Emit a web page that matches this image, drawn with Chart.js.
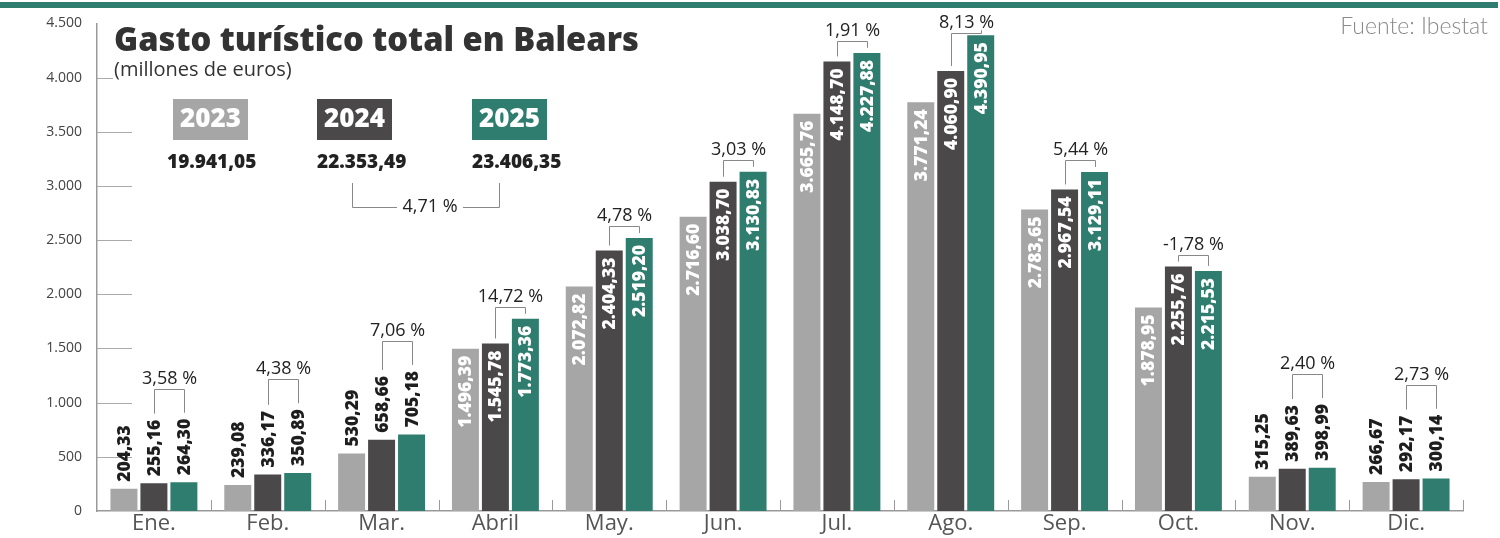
<!DOCTYPE html>
<html lang="es">
<head>
<meta charset="utf-8">
<title>Gasto turístico total en Balears</title>
<script src="https://cdn.jsdelivr.net/npm/chart.js@4/dist/chart.umd.min.js"></script>
<style>
  html, body { margin: 0; padding: 0; background: #fff; }
  #wrap { width: 1500px; height: 538px; position: relative; }
</style>
</head>
<body>
<div id="wrap"><canvas id="chart" width="1500" height="538"></canvas></div>
<script>
// Datos (millones de euros)
const months = ['Ene.', 'Feb.', 'Mar.', 'Abril', 'May.', 'Jun.', 'Jul.', 'Ago.', 'Sep.', 'Oct.', 'Nov.', 'Dic.'];
const years = ['2023', '2024', '2025'];
const gasto2023 = [204.33, 239.08, 530.29, 1496.39, 2072.82, 2716.60, 3665.76, 3771.24, 2783.65, 1878.95, 315.25, 266.67];
const gasto2024 = [255.16, 336.17, 658.66, 1545.78, 2404.33, 3038.70, 4148.70, 4060.90, 2967.54, 2255.76, 389.63, 292.17];
const gasto2025 = [264.30, 350.89, 705.18, 1773.36, 2519.20, 3130.83, 4227.88, 4390.95, 3129.11, 2215.53, 398.99, 300.14];
const variacion = [3.58, 4.38, 7.06, 14.72, 4.78, 3.03, 1.91, 8.13, 5.44, -1.78, 2.40, 2.73];
const totales = [19941.05, 22353.49, 23406.35];
const variacionTotal = 4.71;
const yMax = 4500;
const yStep = 500;

const colors = ['#a6a6a6', '#4a4848', '#2e7d6e'];
const GREEN = '#2e7d6e';

// 1234.5 -> "1.234,50"
function fmt(v) {
  const parts = v.toFixed(2).split('.');
  return parts[0].replace(/\B(?=(\d{3})+(?!\d))/g, '.') + ',' + parts[1];
}
function fmtPct(p) {
  return p.toFixed(2).replace('.', ',') + ' %';
}

const LABEL_FONT = '800 17.5px "Open Sans"';
const PCT_FONT = '18px "Open Sans"';

// etiqueta dentro de la barra si es alta
function isInside(v) { return v >= 1000; }

function labelTop(ctx, bar, v) {
  if (isInside(v)) return bar.y;
  ctx.font = LABEL_FONT;
  return bar.y - 7 - ctx.measureText(fmt(v)).width;
}

const decoPlugin = {
  id: 'deco',
  beforeDatasetsDraw(chart) {
    const { ctx, chartArea, scales } = chart;
    ctx.save();
    ctx.strokeStyle = '#aaa';
    ctx.lineWidth = 1;
    for (let v = yStep; v < yMax; v += yStep) {
      const y = Math.round(scales.y.getPixelForValue(v)) + 0.5;
      ctx.beginPath();
      ctx.moveTo(chartArea.left, y);
      ctx.lineTo(chartArea.left + 35, y);
      ctx.stroke();
    }
    ctx.restore();
  },
  afterDatasetsDraw(chart) {
    const { ctx, chartArea, scales } = chart;
    ctx.save();

    // valores en vertical
    ctx.font = LABEL_FONT;
    ctx.textBaseline = 'middle';
    chart.data.datasets.forEach((ds, di) => {
      const meta = chart.getDatasetMeta(di);
      meta.data.forEach((bar, i) => {
        const v = ds.data[i];
        ctx.save();
        if (isInside(v)) {
          ctx.translate(bar.x + 1, bar.y + 7);
          ctx.rotate(-Math.PI / 2);
          ctx.textAlign = 'right';
          ctx.fillStyle = '#fff';
        } else {
          ctx.translate(bar.x + 1, bar.y - 7);
          ctx.rotate(-Math.PI / 2);
          ctx.textAlign = 'left';
          ctx.fillStyle = '#1e1e1e';
        }
        ctx.fillText(fmt(v), 0, 0);
        ctx.restore();
      });
    });

    // corchetes de variación 2024 -> 2025
    const m24 = chart.getDatasetMeta(1), m25 = chart.getDatasetMeta(2);
    ctx.strokeStyle = '#888';
    ctx.lineWidth = 1;
    months.forEach((m, i) => {
      const b24 = m24.data[i], b25 = m25.data[i];
      const t24 = labelTop(ctx, b24, gasto2024[i]);
      const t25 = labelTop(ctx, b25, gasto2025[i]);
      const out = !isInside(gasto2025[i]);
      let hy = Math.min(t24, t25) - (out ? 30 : 12);
      hy = Math.max(hy, chartArea.top + 10);
      const gap = out ? 6 : 5;
      const x1 = Math.round(b24.x) + 0.5, x2 = Math.round(b25.x) + 0.5;
      hy = Math.round(hy) + 0.5;
      ctx.beginPath();
      ctx.moveTo(x1, t24 - gap);
      ctx.lineTo(x1, hy);
      ctx.lineTo(x2, hy);
      ctx.lineTo(x2, t25 - gap);
      ctx.stroke();
      ctx.font = PCT_FONT;
      ctx.fillStyle = '#222';
      ctx.textAlign = 'center';
      ctx.textBaseline = 'alphabetic';
      ctx.fillText(fmtPct(variacion[i]), (x1 + x2) / 2, hy - 6);
    });

    // marcas entre meses sobre el eje x
    const catW = scales.x.getPixelForValue(1) - scales.x.getPixelForValue(0);
    ctx.strokeStyle = '#999';
    for (let i = 1; i <= months.length; i++) {
      const x = Math.round(chartArea.left + i * catW) + 0.5;
      ctx.beginPath();
      ctx.moveTo(x, chartArea.bottom - 11);
      ctx.lineTo(x, chartArea.bottom);
      ctx.stroke();
    }
    ctx.restore();
  },
  afterDraw(chart) {
    const { ctx } = chart;
    ctx.save();

    // franja superior
    ctx.fillStyle = GREEN;
    ctx.fillRect(0, 2, 1498, 6);

    // título
    ctx.fillStyle = '#333';
    ctx.font = '800 32.7px "Open Sans"';
    ctx.textAlign = 'left';
    ctx.textBaseline = 'alphabetic';
    ctx.fillText('Gasto turístico total en Balears', 114, 51);

    ctx.fillStyle = '#fff';
    ctx.fillRect(113, 60, 195, 24);
    ctx.fillStyle = '#333';
    ctx.font = '20px "Open Sans"';
    ctx.fillText('(millones de euros)', 114, 76);

    // fuente
    ctx.fillStyle = '#8a8a8a';
    ctx.font = '300 23px Lato';
    ctx.textAlign = 'right';
    ctx.fillText('Fuente: Ibestat', 1488, 34);

    // leyenda con totales
    const boxX = [173, 317, 472];
    years.forEach((yr, i) => {
      ctx.fillStyle = colors[i];
      ctx.fillRect(boxX[i], 99, 75, 41);
      ctx.fillStyle = '#fff';
      ctx.font = '800 26px "Open Sans"';
      ctx.textAlign = 'center';
      ctx.textBaseline = 'middle';
      ctx.fillText(yr, boxX[i] + 37.5, 120);
      ctx.fillStyle = '#222';
      ctx.font = '800 19px "Open Sans"';
      ctx.textAlign = 'left';
      ctx.textBaseline = 'alphabetic';
      ctx.fillText(fmt(totales[i]), boxX[i] - (i === 0 ? 6 : 0), 168);
    });

    // variación total
    ctx.strokeStyle = '#888';
    ctx.lineWidth = 1;
    ctx.beginPath();
    ctx.moveTo(352.5, 183); ctx.lineTo(352.5, 207.5); ctx.lineTo(397, 207.5);
    ctx.moveTo(463, 207.5); ctx.lineTo(499.5, 207.5); ctx.lineTo(499.5, 183);
    ctx.stroke();
    ctx.fillStyle = '#222';
    ctx.font = PCT_FONT;
    ctx.textAlign = 'center';
    ctx.textBaseline = 'middle';
    ctx.fillText(fmtPct(variacionTotal), 430, 207);
    ctx.restore();
  }
};

new Chart(document.getElementById('chart'), {
  type: 'bar',
  data: {
    labels: months,
    datasets: [
      { label: years[0], data: gasto2023, backgroundColor: colors[0] },
      { label: years[1], data: gasto2024, backgroundColor: colors[1] },
      { label: years[2], data: gasto2025, backgroundColor: colors[2] }
    ]
  },
  options: {
    responsive: false,
    animation: false,
    devicePixelRatio: 1,
    layout: { padding: { top: 21, right: 37, left: 0, bottom: 0 } },
    datasets: { bar: { categoryPercentage: 0.79, barPercentage: 0.9 } },
    plugins: { legend: { display: false }, tooltip: { enabled: false } },
    scales: {
      x: {
        grid: { display: false, drawTicks: false },
        border: { display: true, color: '#999', width: 1.5 },
        ticks: { color: '#555', font: { family: 'Open Sans', size: 22 }, padding: 0, maxRotation: 0 },
        afterFit(scale) { scale.height = 27; }
      },
      y: {
        min: 0,
        max: yMax,
        grid: { display: false, drawTicks: false },
        border: { display: true, color: '#999', width: 1.5 },
        ticks: {
          stepSize: yStep,
          color: '#444',
          padding: 15,
          font: { family: 'Open Sans', size: 14 },
          callback: v => String(v).replace(/\B(?=(\d{3})+(?!\d))/g, '.')
        },
        afterFit(scale) { scale.width = 97; }
      }
    }
  },
  plugins: [decoPlugin]
});
</script>
</body>
</html>
